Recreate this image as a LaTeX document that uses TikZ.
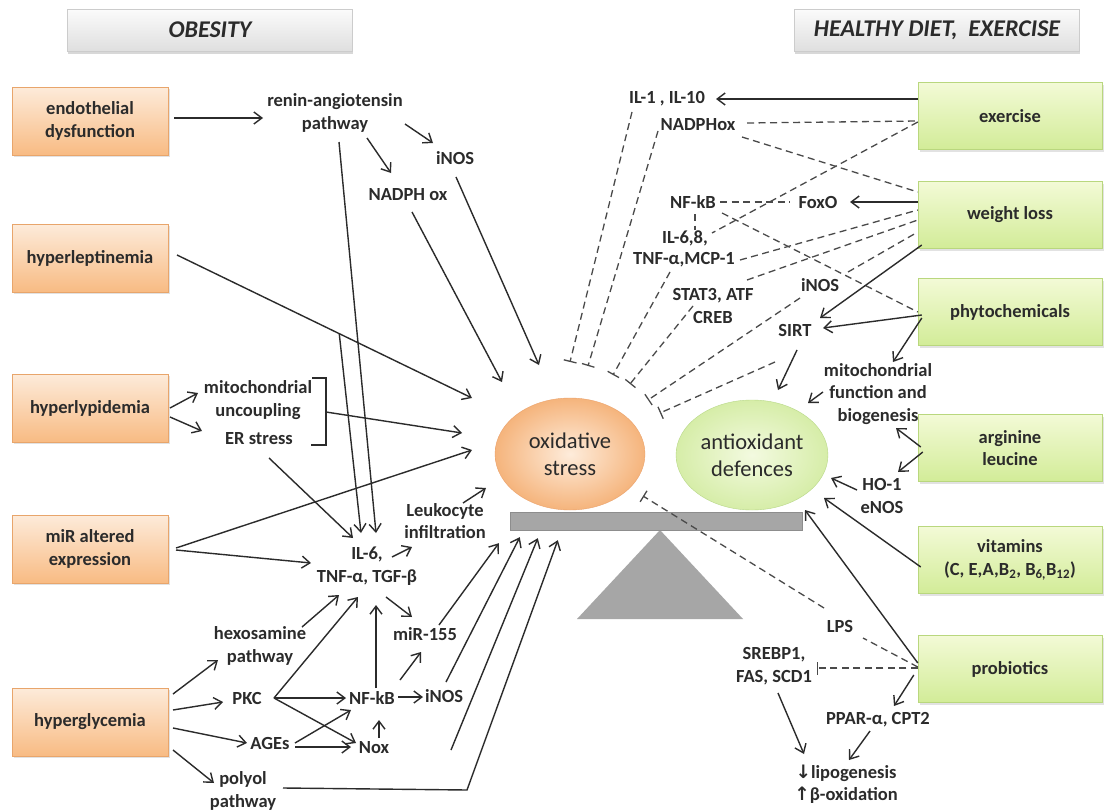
\documentclass[tikz,border=0pt]{standalone}
\usepackage{fontspec}
\setmainfont{Carlito}
\newfontfamily\symfont{DejaVu Sans}
\usetikzlibrary{arrows.meta, shapes.geometric, shadows, calc}
\definecolor{peachtop}{HTML}{FDEBDA}
\definecolor{peachbot}{HTML}{F8BB83}
\definecolor{peachline}{HTML}{E8A56B}
\definecolor{limetop}{HTML}{F3FAD6}
\definecolor{limebot}{HTML}{D2EC98}
\definecolor{limeline}{HTML}{B9D77E}
\definecolor{oxin}{HTML}{FEECDB}
\definecolor{oxout}{HTML}{F5B47C}
\definecolor{oxline}{HTML}{EBA26B}
\definecolor{antiin}{HTML}{F3FAE0}
\definecolor{antiout}{HTML}{D6EDA8}
\definecolor{antiline}{HTML}{B8D888}
\definecolor{inkgray}{HTML}{2B2B2B}
\definecolor{dashgray}{HTML}{4A4A4A}
\definecolor{beamgray}{HTML}{A6A6A6}

\begin{document}
\begin{tikzpicture}[x=1pt, y=-1pt,
  every node/.style={text=inkgray},
  lbl/.style={font=\bfseries\fontsize{18.5}{22.5}\selectfont, align=center, inner sep=2pt},
  cause/.style={lbl, draw=peachline, top color=peachtop, bottom color=peachbot, minimum width=156pt, minimum height=68pt,
    drop shadow={shadow xshift=1.5pt, shadow yshift=-2pt, fill=gray!45}},
  remedy/.style={lbl, draw=limeline, top color=limetop, bottom color=limebot, minimum width=184pt, minimum height=67pt,
    drop shadow={shadow xshift=1.5pt, shadow yshift=-2pt, fill=gray!45}},
  heading/.style={font=\bfseries\itshape\fontsize{24}{28}\selectfont, draw=gray!40, top color=gray!3, bottom color=gray!25,
    minimum width=285pt, minimum height=42pt, drop shadow={shadow xshift=0pt, shadow yshift=-3pt, fill=gray!60}},
  balance/.style={ellipse, align=center, inner sep=0pt, minimum width=150pt, minimum height=112pt, font=\fontsize{22.5}{27}\selectfont},
  arrow/.style={-{Straight Barb[length=8pt, width=12pt]}, line width=1.4pt, draw=inkgray},
  plain/.style={line width=1.4pt, draw=inkgray},
  dashline/.style={line width=1.3pt, draw=dashgray, dash pattern=on 7pt off 4.5pt},
  inhib/.style={dashline, -{Bar[width=13pt, line width=1.3pt]}}
]
\fill[white] (0,0) rectangle (1104,811);
\useasboundingbox (0,0) rectangle (1104,811);

% headings
\node[heading] (obes) at (210,30) {OBESITY};
\node[heading] (healthy) at (937,30) {HEALTHY DIET,\ \ EXERCISE};

% causes
\node[cause] (endo) at (90,121) {endothelial\\dysfunction};
\node[cause] (lept) at (90,258) {hyperleptinemia};
\node[cause] (lipid) at (90,408) {hyperlypidemia};
\node[cause] (mir) at (90,549) {miR altered\\expression};
\node[cause] (glyc) at (90,722) {hyperglycemia};

% remedies
\node[remedy] (exer) at (1010,116) {exercise};
\node[remedy] (wloss) at (1010,215) {weight loss};
\node[remedy] (phyto) at (1010,312) {phytochemicals};
\node[remedy] (argi) at (1010,448) {arginine\\leucine};
\node[remedy] (vitam) at (1010,560) {vitamins\\(C, E,A,B\textsubscript{2}, B\textsubscript{6,}B\textsubscript{12})};
\node[remedy] (probio) at (1010,669) {probiotics};

% balance
\fill[beamgray] (660,530) -- (743,619) -- (577,619) -- cycle;
\node[draw=beamgray!85!black, fill=beamgray, minimum width=292pt, minimum height=18pt, inner sep=0pt] (beam) at (656,521) {};
\node[balance, draw=oxline, inner color=oxin, outer color=oxout] (ox) at (570,454) {oxidative\\stress};
\node[balance, draw=antiline, inner color=antiin, outer color=antiout, minimum width=152pt, minimum height=110pt] (anti) at (752,455) {antioxidant\\defences};

% obesity side labels
\node[lbl] (renin) at (335,113) {renin-angiotensin\\pathway};
\node[lbl] (inosA) at (455,158) {iNOS};
\node[lbl] (nadph) at (408,195) {NADPH ox};
\node[lbl] (mito) at (258,400) {mitochondrial\\uncoupling};
\node[lbl] (er) at (259,439) {ER stress};
\node[lbl] (leuko) at (445,521) {Leukocyte\\infiltration};
\node[lbl] (il6) at (367,566) {IL-6,\\TNF-α, TGF-β};
\node[lbl] (hexo) at (260,646) {hexosamine\\pathway};
\node[lbl] (mir155) at (425,634) {miR-155};
\node[lbl] (pkc) at (247,698) {PKC};
\node[lbl] (nfkbA) at (372,698) {NF-kB};
\node[lbl] (inosB) at (444,696) {iNOS};
\node[lbl] (ages) at (270,743) {AGEs};
\node[lbl] (nox) at (374,748) {Nox};
\node[lbl] (polyol) at (243,791) {polyol\\pathway};

% healthy side labels
\node[lbl] (il1) at (667,99) {IL-1 , IL-10};
\node[lbl] (nadphox) at (698,125) {NADPHox};
\node[lbl] (nfkbB) at (693,202) {NF-kB};
\node[lbl] (foxo) at (818,202) {FoxO};
\node[lbl] (il68) at (685,238) {IL-6,8,};
\node[lbl] (tnfmcp) at (684,260) {TNF-α,MCP-1};
\node[lbl] (stat) at (713,306) {STAT3, ATF\\CREB};
\node[lbl] (inosC) at (820,285) {iNOS};
\node[lbl] (sirt) at (795,330) {SIRT};
\node[lbl] (mitof) at (878,394) {mitochondrial\\function and\\biogenesis};
\node[lbl] (ho) at (882,496) {HO-1\\eNOS};
\node[lbl] (lps) at (840,626) {LPS};
\node[lbl] (srebp) at (774,666) {SREBP1,\\FAS, SCD1};
\node[lbl] (ppar) at (878,720) {PPAR-α, CPT2};
\node[lbl] (lipo) at (846,784) {{\symfont ↓}lipogenesis\\{\symfont ↑}β-oxidation};

% obesity side connectors
\draw[arrow] ($(endo)+(84,-3)$) -- ($(renin)+(-72,5)$);
\draw[arrow] ($(renin)+(70,11)$) -- ($(inosA)+(-22,-15)$);
\draw[arrow] ($(renin)+(32,25)$) -- ($(nadph)+(-17,-22)$);
\draw[arrow] ($(renin)+(4,29)$) -- ($(il6)+(9,-33)$);
\draw[arrow] ($(lept)+(87,-3)$) -- coordinate[pos=0.55] (leptsplit) ($(ox)+(-98,-56)$);
\draw[arrow] (leptsplit) -- ($(il6)+(-6,-33)$);
\draw[arrow] ($(nadph)+(4,17)$) -- ($(ox)+(-68,-72)$);
\draw[arrow] ($(inosA)+(1,19)$) -- ($(ox)+(-31,-89)$);
\draw[arrow] ($(lipid)+(80,0)$) -- ($(mito)+(-60,-7)$);
\draw[arrow] ($(lipid)+(80,9)$) -- ($(er)+(-57,-8)$);
\draw[plain, line width=1.2pt] ($(mito)+(54,-22)$) -| ($(mito)+(68,45)$) -- ++(-15,0);
\coordinate (brk) at ($(mito)+(68,12)$);
\draw[arrow] (brk) -- ($(ox)+(-108,-21)$);
\draw[arrow] ($(mir)+(86,-1)$) -- ($(ox)+(-98,-4)$);
\draw[arrow] ($(mir)+(86,1)$) -- ($(il6)+(-56,-3)$);
\draw[arrow] ($(er)+(10,19)$) -- ($(il6)+(-14,-28)$);
\draw[arrow] ($(il6)+(25,-9)$) -- ($(leuko)+(-33,26)$);
\draw[arrow] ($(leuko)+(18,-18)$) -- ($(ox)+(-84,34)$);
\draw[arrow] ($(glyc)+(83,-28)$) -- ($(hexo)+(-42,14)$);
\draw[arrow] ($(glyc)+(83,-12)$) -- ($(pkc)+(-24,4)$);
\draw[arrow] ($(glyc)+(83,6)$) -- ($(ages)+(-23,0)$);
\draw[arrow] ($(glyc)+(83,28)$) -- ($(polyol)+(-29,-8)$);
\draw[arrow] ($(hexo)+(42,-19)$) -- ($(il6)+(-28,29)$);
\draw[arrow] ($(pkc)+(27,0)$) -- ($(il6)+(-9,31)$);
\draw[arrow] ($(pkc)+(27,0)$) -- ($(nfkbA)+(-26,0)$);
\draw[arrow] ($(pkc)+(27,0)$) -- ($(nox)+(-18,-5)$);
\draw[arrow] ($(nfkbA)+(4,-10)$) -- ($(il6)+(9,39)$);
\draw[arrow] ($(nfkbA)+(28,-18)$) -- ($(mir155)+(-4,18)$);
\draw[arrow] ($(nfkbA)+(26,-1)$) -- ($(inosB)+(-21,1)$);
\draw[arrow] ($(il6)+(19,31)$) -- ($(mir155)+(-13,-17)$);
\draw[arrow] ($(ages)+(25,0)$) -- ($(nfkbA)+(-21,12)$);
\draw[arrow] ($(ages)+(25,4)$) -- ($(nox)+(-23,-1)$);
\draw[arrow] ($(nox)+(5,-10)$) -- ($(nfkbA)+(7,22)$);
\draw[arrow] ($(mir155)+(14,-9)$) -- ($(beam.south west)+(-11,13)$);
\draw[arrow] ($(inosB)+(2,-14)$) -- ($(beam.south west)+(10,7)$);
\draw[arrow] ($(nox)+(77,2)$) -- ($(beam.south west)+(28,8)$);
\draw[arrow] ($(polyol)+(40,-3)$) -- ++(184,2) -- ($(beam.south west)+(48,10)$);

% healthy side connectors
\draw[arrow] ($(exer.west)+(0,-17)$) -- ($(il1)+(49,0)$);
\draw[dashline] ($(nadphox)+(49,-2)$) -- ($(exer.west)+(0,5)$);
\draw[dashline] ($(nadphox)+(44,12)$) -- ($(wloss.west)+(0,-23)$);
\draw[dashline] ($(exer.west)+(0,6)$) -- ($(il68)+(27,-5)$);
\draw[dashline] ($(nfkbB)+(27,0)$) -- ($(foxo)+(-28,0)$);
\draw[arrow] ($(wloss.west)+(0,-13)$) -- ($(foxo)+(32,0)$);
\draw[dashline] ($(nfkbB)+(2,12)$) -- ($(il68)+(10,-8)$);
\draw[dashline] ($(nfkbB)+(29,11)$) -- (phyto.west);
\draw[dashline] ($(tnfmcp)+(56,0)$) -- ($(wloss.west)+(0,-5)$);
\draw[dashline] ($(stat)+(34,-26)$) -- ($(wloss.west)+(0,5)$);
\draw[dashline] ($(inosC)+(28,-13)$) -- ($(wloss.west)+(0,17)$);
\draw[arrow] ($(wloss.west)+(4,30)$) -- ($(sirt)+(25,-12)$);
\draw[arrow] ($(phyto.west)+(4,3)$) -- ($(sirt)+(28,-2)$);
\draw[arrow] ($(phyto.west)+(4,6)$) -- ($(mitof)+(15,-32)$);
\draw[arrow] ($(sirt)+(2,20)$) -- ($(anti)+(26,-65)$);
\draw[arrow] ($(mitof)+(-55,-2)$) -- ($(anti)+(56,-52)$);
\draw[arrow] ($(argi.west)+(3,-1)$) -- ($(mitof)+(18,34)$);
\draw[arrow] ($(argi.west)+(5,4)$) -- ($(ho)+(16,-24)$);
\draw[arrow] ($(ho)+(-25,-6)$) -- ($(anti)+(79,23)$);
\draw[arrow] ($(vitam.west)+(3,7)$) -- ($(anti)+(72,43)$);
\draw[arrow] ($(probio.west)+(0,-6)$) -- ($(anti)+(53,55)$);
\draw[dashline] ($(probio.west)+(0,-2)$) -- ($(lps)+(23,12)$);
\draw[inhib] ($(lps)+(-16,-18)$) -- ($(ox)+(73,42)$);
\draw[inhib] ($(probio.west)+(0,-1)$) -- ($(srebp)+(43,2)$);
\draw[arrow] ($(probio.west)+(-4,6)$) -- ($(ppar)+(16,-14)$);
\draw[arrow] ($(srebp)+(4,27)$) -- ($(lipo)+(-42,-30)$);
\draw[arrow] ($(ppar)+(-8,11)$) -- ($(lipo)+(3,-24)$);

% inhibition of oxidative stress
\draw[inhib] ($(il1)+(-35,13)$) -- ($(ox)+(0,-92)$);
\draw[inhib] ($(nadphox)+(-40,6)$) -- ($(ox)+(18,-88)$);
\draw[inhib] ($(tnfmcp)+(-14,12)$) -- ($(ox)+(43,-79)$);
\draw[inhib] ($(stat)+(-20,0)$) -- ($(ox)+(60,-70)$);
\draw[inhib] ($(inosC)+(-20,13)$) -- ($(ox)+(78,-54)$);
\draw[inhib] ($(sirt)+(-20,32)$) -- ($(ox)+(90,-41)$);
\end{tikzpicture}
\end{document}
